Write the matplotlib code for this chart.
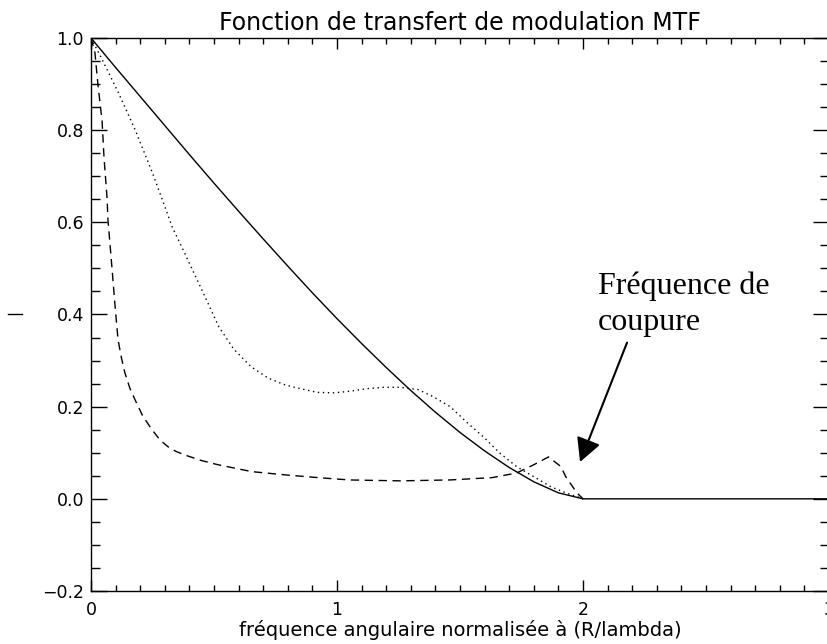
import matplotlib
matplotlib.use("Agg")
import matplotlib.pyplot as plt
from matplotlib.lines import Line2D
from matplotlib.ticker import MultipleLocator, FixedLocator

# courbe pleine (pupille parfaite)
x_solid = [0.0, 0.1, 0.2, 0.3, 0.4, 0.5, 0.6, 0.7, 0.8, 0.9, 1.0, 1.1, 1.2,
           1.3, 1.4, 1.5, 1.6, 1.7, 1.8, 1.9, 2.0, 3.0]
y_solid = [1.0, 0.936, 0.873, 0.810, 0.747, 0.685, 0.624, 0.564, 0.505, 0.447,
           0.391, 0.337, 0.285, 0.235, 0.188, 0.144, 0.104, 0.068, 0.037,
           0.013, 0.0, 0.0]

# courbe pointillee
x_dot = [0.0, 0.04, 0.11, 0.18, 0.25, 0.29, 0.33, 0.38, 0.45, 0.52, 0.58,
         0.65, 0.72, 0.79, 0.86, 0.92, 0.99, 1.06, 1.12, 1.19, 1.26, 1.33,
         1.39, 1.46, 1.53, 1.60, 1.66, 1.73, 1.80, 1.87, 1.93, 2.0]
y_dot = [1.0, 0.959, 0.883, 0.800, 0.707, 0.649, 0.590, 0.534, 0.454, 0.373,
         0.325, 0.287, 0.262, 0.247, 0.238, 0.231, 0.230, 0.234, 0.239,
         0.242, 0.242, 0.237, 0.222, 0.200, 0.165, 0.132, 0.100, 0.070,
         0.048, 0.026, 0.013, 0.0]

# courbe tiretee
x_dash = [0.0, 0.016, 0.028, 0.045, 0.053, 0.065, 0.069, 0.085, 0.098, 0.11,
          0.124, 0.138, 0.158, 0.179, 0.21, 0.248, 0.28, 0.313, 0.345, 0.382,
          0.45, 0.516, 0.654, 0.789, 0.923, 1.05, 1.256, 1.46, 1.63, 1.73,
          1.80, 1.86, 1.91, 1.93, 1.975, 2.0]
y_dash = [1.0, 0.968, 0.90, 0.82, 0.74, 0.655, 0.605, 0.503, 0.417, 0.345,
          0.305, 0.273, 0.240, 0.215, 0.180, 0.150, 0.128, 0.113, 0.103,
          0.095, 0.083, 0.074, 0.059, 0.052, 0.046, 0.041, 0.039, 0.041,
          0.046, 0.056, 0.074, 0.091, 0.070, 0.048, 0.013, 0.0]

y_ticks = [1.0, 0.8, 0.6, 0.4, 0.2, 0.0, -0.2]
y_ticklabels = ["1.0", "0.8", "0.6", "0.4", "0.2", "0.0", "\u22120.2"]
x_ticks = [0, 1, 2, 3]
x_ticklabels = ["0", "1", "2", "3"]

fig = plt.figure(figsize=(8.27, 6.44), dpi=100)
ax = fig.add_axes([91 / 827, 53 / 644, 738 / 827, 553 / 644])

ax.plot(x_solid, y_solid, color="black", lw=1.0)
ax.plot(x_dot, y_dot, color="black", lw=1.0, linestyle=(0, (1, 2.6)))
ax.plot(x_dash, y_dash, color="black", lw=1.0, linestyle=(0, (6, 4)))

ax.set_xlim(0, 3)
ax.set_ylim(-0.2, 1.0)

ax.xaxis.set_major_locator(FixedLocator(x_ticks))
ax.set_xticklabels(x_ticklabels)
ax.xaxis.set_minor_locator(MultipleLocator(0.1))
ax.yaxis.set_major_locator(FixedLocator(y_ticks))
ax.set_yticklabels(y_ticklabels)
ax.yaxis.set_minor_locator(MultipleLocator(0.05))

ax.tick_params(axis="x", which="major", direction="in", length=8, width=1,
               top=True, labelsize=12.5, pad=7)
ax.tick_params(axis="x", which="minor", direction="in", length=4, width=1,
               top=True)
ax.tick_params(axis="y", which="major", direction="in", length=11.5, width=1,
               right=True, labelsize=12.5, pad=5)
ax.tick_params(axis="y", which="minor", direction="in", length=6.5, width=1,
               right=True)
for sp in ax.spines.values():
    sp.set_linewidth(1.0)

ax.set_title("Fonction de transfert de modulation MTF", fontsize=17, pad=6)
ax.set_xlabel("fr\u00e9quence angulaire normalis\u00e9e \u00e0 (R/lambda)",
              fontsize=14, labelpad=1)

# petit trait a gauche (titre de l'axe y)
fig.add_artist(Line2D([8 / 827, 22 / 827], [1 - 314 / 644, 1 - 314 / 644],
                      color="black", lw=1.0))

ax.text(2.061, 0.445, "Fr\u00e9quence de", family="Liberation Serif",
        fontsize=23, ha="left", va="baseline")
ax.text(2.061, 0.367, "coupure", family="Liberation Serif",
        fontsize=23, ha="left", va="baseline")
ax.annotate("", xy=(1.988, 0.080), xytext=(2.179, 0.339),
            arrowprops=dict(arrowstyle="-|>,head_length=0.72,head_width=0.38",
                            mutation_scale=20, color="black", lw=1.5,
                            shrinkA=0, shrinkB=0))

fig.savefig("out.png", dpi=100)
